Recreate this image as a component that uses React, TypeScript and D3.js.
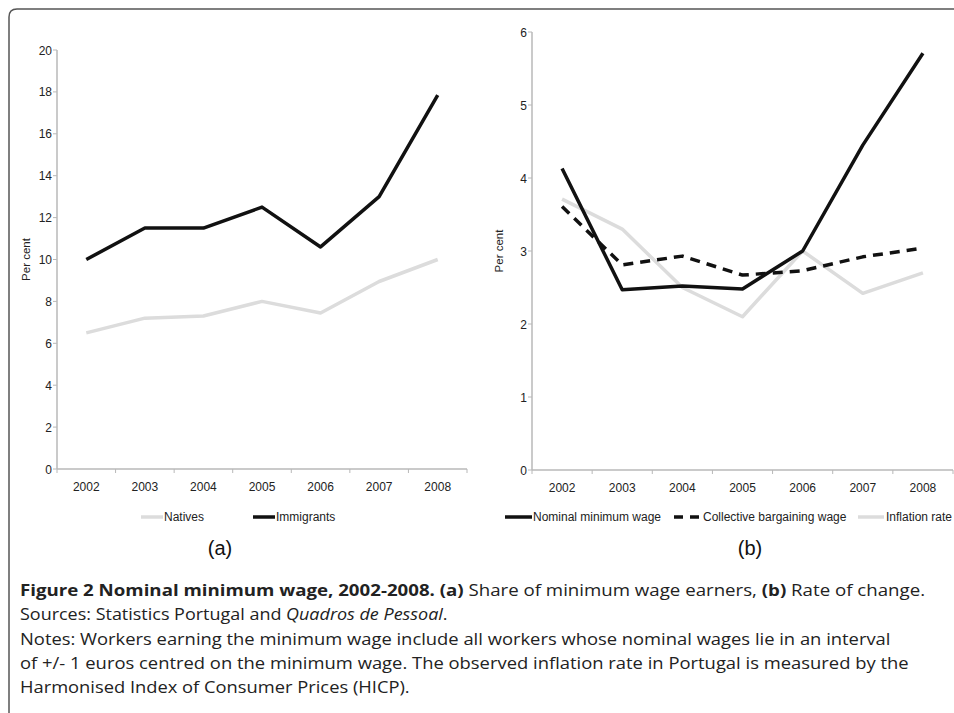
import React from "react";
import * as d3 from "d3";

const years = ["2002", "2003", "2004", "2005", "2006", "2007", "2008"];
const natives = [6.5, 7.2, 7.3, 8.0, 7.45, 8.95, 10.0];
const immigrants = [10.0, 11.5, 11.5, 12.5, 10.6, 13.0, 17.85];
const nominalWage = [4.13, 2.47, 2.52, 2.48, 3.0, 4.45, 5.71];
const collectiveWage = [3.61, 2.81, 2.93, 2.67, 2.73, 2.92, 3.04];
const inflationRate = [3.71, 3.3, 2.5, 2.1, 3.0, 2.42, 2.7];
const leftTicks = [0, 2, 4, 6, 8, 10, 12, 14, 16, 18, 20];
const rightTicks = [0, 1, 2, 3, 4, 5, 6];

const FONT = "'Liberation Sans', Arial, sans-serif";
const CAP_FONT = "'Open Sans', 'Noto Sans', sans-serif";
const CAP_SIZE = 16;
const BLACK = "#111";
const GREY = "#dcdcdc";
const AXIS = "#b8b8b8";

type Seg = { t: string; b?: boolean; i?: boolean };
const captionLines: { segs: Seg[]; width: number; y: number }[] = [
  { segs: [{ t: "Figure 2 Nominal minimum wage, 2002-2008. (a)", b: true }, { t: " Share of minimum wage earners, " }, { t: "(b)", b: true }, { t: " Rate of change." }], width: 906, y: 596 },
  { segs: [{ t: "Sources: Statistics Portugal and " }, { t: "Quadros de Pessoal", i: true }, { t: "." }], width: 428, y: 620 },
  { segs: [{ t: "Notes: Workers earning the minimum wage include all workers whose nominal wages lie in an interval" }], width: 871, y: 645 },
  { segs: [{ t: "of +/- 1 euros centred on the minimum wage. The observed inflation rate in Portugal is measured by the" }], width: 889, y: 669 },
  { segs: [{ t: "Harmonised Index of Consumer Prices (HICP)." }], width: 390, y: 693 },
];

let ctx: CanvasRenderingContext2D | null = null;
function measure(segs: Seg[]) {
  if (!ctx) ctx = document.createElement("canvas").getContext("2d");
  if (!ctx) return 1;
  let w = 0;
  for (const s of segs) {
    ctx.font = `${s.i ? "italic " : ""}${s.b ? "bold " : ""}${CAP_SIZE}px 'Open Sans', 'Noto Sans', sans-serif`;
    w += ctx.measureText(s.t).width;
  }
  return w;
}

type Series = { name: string; values: number[]; color: string; dash?: string };
type Legend = { name: string; x: number; len: number; gap: number; color: string; dash?: string };

function Panel(props: {
  x0: number; x1: number; yTop: number; yBottom: number; domainMax: number;
  ticks: number[]; series: Series[]; label: string; labelX: number;
  ylabelX: number; legend: Legend[];
}) {
  const { x0, x1, yTop, yBottom, domainMax, ticks, series, label, labelX, ylabelX, legend } = props;
  const x = d3.scaleBand<string>().domain(years).range([x0, x1]);
  const y = d3.scaleLinear().domain([0, domainMax]).range([yBottom, yTop]);
  const line = (vals: number[]) =>
    d3.line<number>().x((_, i) => (x(years[i]) as number) + x.bandwidth() / 2).y((v) => y(v))(vals) as string;
  const bounds = years.map((yr) => x(yr) as number).concat([x1]);
  return (
    <g>
      <line x1={x0} x2={x0} y1={yTop} y2={yBottom} stroke={AXIS} strokeWidth={1.5} />
      <line x1={x0} x2={x1} y1={yBottom} y2={yBottom} stroke={AXIS} strokeWidth={1.5} />
      {ticks.map((t) => (
        <g key={t}>
          <line x1={x0 - 4} x2={x0} y1={y(t)} y2={y(t)} stroke={AXIS} strokeWidth={1} />
          <text x={x0 - 5} y={y(t) + 4.5} textAnchor="end" fontSize={12} fontFamily={FONT} fill="#222">{t}</text>
        </g>
      ))}
      {bounds.map((b, i) => (
        <line key={i} x1={b} x2={b} y1={yBottom} y2={yBottom + 4} stroke={AXIS} strokeWidth={1} />
      ))}
      {years.map((yr) => (
        <text key={yr} x={(x(yr) as number) + x.bandwidth() / 2} y={yBottom + 22} textAnchor="middle" fontSize={12} fontFamily={FONT} fill="#222">{yr}</text>
      ))}
      <text transform={`translate(${ylabelX},${(yTop + yBottom) / 2}) rotate(-90)`} textAnchor="middle" fontSize={11.5} fontFamily={FONT} fill="#222">Per cent</text>
      {series.map((s) => (
        <path key={s.name} d={line(s.values)} fill="none" stroke={s.color} strokeWidth={3.5} strokeDasharray={s.dash} strokeLinejoin="round" />
      ))}
      {legend.map((l) => (
        <g key={l.name}>
          <line x1={l.x} x2={l.x + l.len} y1={517} y2={517} stroke={l.color} strokeWidth={3.5} strokeDasharray={l.dash} />
          <text x={l.x + l.len + l.gap} y={521} fontSize={12} fontFamily={FONT} fill="#222">{l.name}</text>
        </g>
      ))}
      <text x={labelX} y={555} textAnchor="middle" fontSize={20} fontFamily={FONT} fill="#111">{label}</text>
    </g>
  );
}

export default function App() {
  return (
    <svg width={954} height={713} style={{ position: "absolute", left: 0, top: 0, background: "#fff" }}>
      <path d="M9,713 L9,17 Q9,9 17,9 L954,9" fill="none" stroke="#555" strokeWidth={1.5} />
      <Panel x0={57} x1={467} yTop={50} yBottom={469} domainMax={20} ticks={leftTicks}
        series={[
          { name: "Natives", values: natives, color: GREY },
          { name: "Immigrants", values: immigrants, color: BLACK },
        ]}
        label="(a)" labelX={220} ylabelX={30}
        legend={[
          { name: "Natives", x: 141, len: 22, gap: 1, color: GREY },
          { name: "Immigrants", x: 253, len: 22, gap: 1, color: BLACK },
        ]}
      />
      <Panel x0={532} x1={953} yTop={32} yBottom={470} domainMax={6} ticks={rightTicks}
        series={[
          { name: "Inflation rate", values: inflationRate, color: GREY },
          { name: "Collective bargaining wage", values: collectiveWage, color: BLACK, dash: "10,7" },
          { name: "Nominal minimum wage", values: nominalWage, color: BLACK },
        ]}
        label="(b)" labelX={750} ylabelX={503}
        legend={[
          { name: "Nominal minimum wage", x: 505, len: 27, gap: 1, color: BLACK },
          { name: "Collective bargaining wage", x: 674, len: 25, gap: 4, color: BLACK, dash: "9,7" },
          { name: "Inflation rate", x: 858, len: 26, gap: 2, color: GREY },
        ]}
      />
      <g fontFamily={CAP_FONT} fontSize={CAP_SIZE} fill="#222">
        {captionLines.map((ln, k) => {
          const sx = ln.width / measure(ln.segs);
          return (
            <text key={k} transform={`translate(20,${ln.y}) scale(${sx},1)`}>
              {ln.segs.map((s, j) => (
                <tspan key={j} fontWeight={s.b ? "bold" : "normal"} fontStyle={s.i ? "italic" : "normal"}>{s.t}</tspan>
              ))}
            </text>
          );
        })}
      </g>
    </svg>
  );
}
